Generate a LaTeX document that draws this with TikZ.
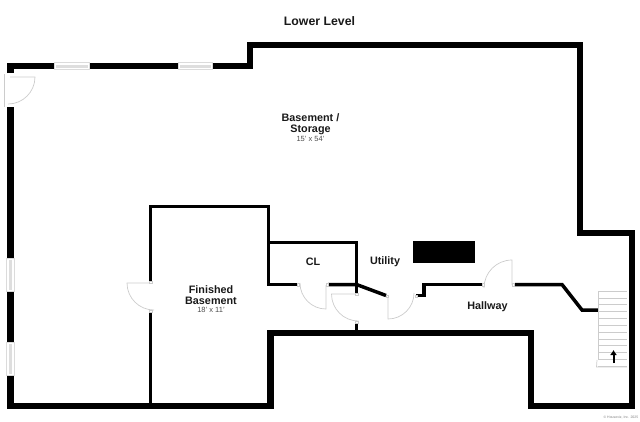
\documentclass[tikz,border=0pt]{standalone}
\usepackage{fontspec}
\usetikzlibrary{arrows.meta}
\setmainfont{Liberation Sans}
\definecolor{doorgrey}{HTML}{CCCCCC}
\definecolor{wingrey}{HTML}{DEDEDE}
\tikzset{
  wall/.style={line width=6.5pt,line cap=butt,miter limit=10},
  thinwall/.style={line width=3.5pt,line cap=butt},
  door/.style={draw=doorgrey,line width=0.7pt},
  jamb/.style={draw=doorgrey,fill=white,line width=0.4pt},
  windowframe/.style={draw=doorgrey!70,fill=white,line width=0.4pt},
  windowpane/.style={draw=none,fill=wingrey},
  tread/.style={draw=doorgrey,line width=0.7pt},
  label/.style={font=\bfseries\fontsize{10.8}{11}\selectfont,text=black!90,inner sep=0pt,align=center},
  titlelabel/.style={font=\bfseries\fontsize{12.3}{13}\selectfont,text=black!90,inner sep=0pt},
  dims/.style={font=\fontsize{7.5}{8}\selectfont,text=black!70,inner sep=0pt},
}
\begin{document}
\begin{tikzpicture}[x=1pt,y=-1pt]
\useasboundingbox (0,0) rectangle (640,421);
% outer walls
\draw[wall] (10.5,73) -- (10.5,66) -- (250,66) -- (250,45) -- (580,45) -- (580,233) -- (632,233) -- (632,406) -- (531,406) -- (531,333) -- (270.5,333) -- (270.5,406) -- (10.5,406) -- (10.5,107);
% windows
\foreach \a/\b in {54/89,178/212}{
  \draw[windowframe] (\a,62.5) rectangle (\b,69.5);
  \fill[windowpane] (\a+1.5,64.5) rectangle (\b-1.5,67.5);
}
\foreach \a/\b in {258/291,342/375}{
  \draw[windowframe] (6.5,\a) rectangle (14,\b);
  \fill[windowpane] (8.5,\a+1.5) rectangle (12,\b-1.5);
}
% inner walls
\draw[thinwall] (150.5,283) -- (150.5,206.5) -- (268.5,206.5) -- (268.5,284.5) -- (297,284.5);
\draw[thinwall] (150.5,311) -- (150.5,404);
\draw[thinwall] (268.5,242.5) -- (356.5,242.5) -- (356.5,293);
\draw[thinwall] (328,284.5) -- (356.5,284.5) -- (386,295.5);
\draw[thinwall] (416,295.5) -- (424,295.5) -- (424,284.5) -- (482,284.5);
\draw[thinwall] (515,284.5) -- (562,284.5) -- (582,310) -- (598,310);
\draw[thinwall] (356.5,322) -- (356.5,331);
% equipment
\fill[black] (413,241) rectangle (475,263);
% doors
\draw[door] (4.5,74) -- (4.5,107);
\draw[door] (10,77) -- (35,77) arc[start angle=0,end angle=90,radius=27];
\draw[door] (150,283) -- (127,283) arc[start angle=180,end angle=90,radius=27];
\draw[door] (326,285) -- (326,309) arc[start angle=90,end angle=180,radius=26];
\draw[door] (356,294) -- (331.5,294) arc[start angle=180,end angle=90,radius=27];
\draw[door] (388,296) -- (388,319) arc[start angle=90,end angle=0,radius=26];
\draw[door] (512,285) -- (512,260) arc[start angle=-90,end angle=-180,radius=28];
% jambs
\foreach \x/\y in {150.5/282,150.5/311,298/284.5,327/284.5,356.5/294,356.5/322,387/296,416/296,483/284.5,513/284.5}{
  \draw[jamb] (\x-1.3,\y-1.3) rectangle (\x+1.3,\y+1.3);
}
% stairs
\draw[tread] (598,291) -- (598,360);
\foreach \i in {0,...,11}{
  \draw[tread] (598,291+\i*6.85) -- (627,291+\i*6.85);
}
\draw[tread] (597,360) -- (596.5,367) -- (627,367);
\draw[line width=2pt,-{Latex[length=5pt,width=7pt]}] (613.5,363) -- (613.5,350);
% labels
\node[titlelabel] (title) at (319.5,21) {Lower Level};
\node[label] (bs) at (310.5,124) {Basement /\\Storage};
\node[dims] (bsd) at (310.5,138.5) {15' x 54'};
\node[label] (fb) at (211,295) {Finished\\Basement};
\node[dims] (fbd) at (211,310) {18' x 11'};
\node[label] (cl) at (313,261.5) {CL};
\node[label] (ut) at (385,262) {Utility};
\node[label] (hw) at (487.5,306.5) {Hallway};
\node[font=\fontsize{3.5}{4}\selectfont,text=black!50,inner sep=0pt,anchor=east] (cr) at (638.5,417.5) {© Houseviz, Inc. 2025};
\end{tikzpicture}
\end{document}
